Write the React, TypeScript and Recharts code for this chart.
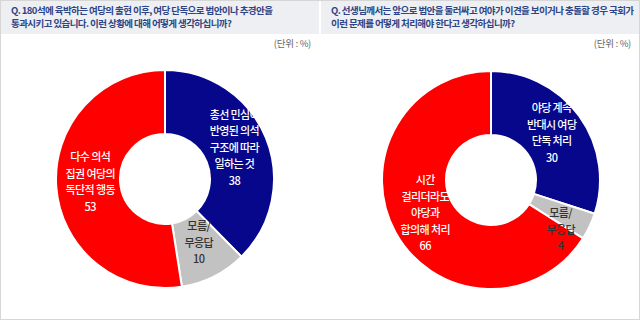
import { PieChart, Pie, Cell } from 'recharts'

const leftQuestion = [
  'Q. 180석에 육박하는 여당의 출현 이후, 여당 단독으로 법안이나 추경안을',
  '통과시키고 있습니다. 이런 상황에 대해 어떻게 생각하십니까?',
]
const leftLabels = [
  ['총선 민심이', '반영된 의석', '구조에 따라', '일하는 것'],
  ['모름/', '무응답'],
  ['다수 의석', '집권 여당의', '독단적 행동'],
]
const leftValues = [38, 10, 53]

const rightQuestion = [
  'Q. 선생님께서는 앞으로 법안을 둘러싸고 여야가 이견을 보이거나 충돌할 경우 국회가',
  '이런 문제를 어떻게 처리해야 한다고 생각하십니까?',
]
const rightLabels = [
  ['야당 계속', '반대시 여당', '단독 처리'],
  ['모름/', '무응답'],
  ['시간', '걸리더라도', '야당과', '합의해 처리'],
]
const rightValues = [30, 4, 66]

const unitLabel = '(단위 : %)'

const COLORS = ['#07078b', '#c2c2c2', '#fe0000']
const TEXT_COLORS = ['#ffffff', '#333333', '#ffffff']
const RADIAN = Math.PI / 180
const FONT = '"Noto Sans CJK KR", "Noto Sans", sans-serif'

function makeLabel(lines: string[][], values: number[]) {
  return (props: any) => {
    const { cx, cy, midAngle, innerRadius, outerRadius, index, percent } = props
    const small = percent < 0.06
    const r = (innerRadius + outerRadius) / 2 - (small ? 0 : 2)
    const x = cx + r * Math.cos(-midAngle * RADIAN)
    // thin slices get their text pushed down a little, like the original
    const y = cy + r * Math.sin(-midAngle * RADIAN) + (small ? 16 : -4)
    const all = [...lines[index], String(values[index])]
    const lh = 16.5
    const y0 = y - ((all.length - 1) * lh) / 2
    return (
      <text
        x={x}
        y={y0}
        fill={TEXT_COLORS[index]}
        textAnchor="middle"
        fontSize={11}
        fontWeight={500}
        letterSpacing={-0.6}
        fontFamily={FONT}
      >
        {all.map((t, i) => (
          <tspan key={i} x={x} y={y0 + i * lh} dominantBaseline="central">
            {t}
          </tspan>
        ))}
      </text>
    )
  }
}

function Panel({ question, labels, values, cx, cy }: { question: string[]; labels: string[][]; values: number[]; cx: number; cy: number }) {
  const data = values.map((v, i) => ({ name: labels[i].join(' '), value: v }))
  return (
    <div style={{ width: 318, height: 318, position: 'relative', background: '#fff' }}>
      <div
        style={{
          background: '#eeeff2',
          height: 33,
          boxSizing: 'border-box',
          padding: '3px 0 0 10px',
          color: '#2d4486',
          fontSize: 9.5,
          lineHeight: '13px',
          letterSpacing: -0.58,
          fontWeight: 600,
          whiteSpace: 'nowrap',
        }}
      >
        {question.map((q, i) => (
          <div key={i}>{q}</div>
        ))}
      </div>
      <div
        style={{
          position: 'absolute',
          right: 8,
          top: 35,
          fontSize: 9.5,
          color: '#666',
          letterSpacing: -0.3,
        }}
      >
        {unitLabel}
      </div>
      <div style={{ position: 'absolute', left: 0, top: 33 }}>
        <PieChart width={318} height={285}>
          <Pie
            data={data}
            dataKey="value"
            cx={cx}
            cy={cy}
            innerRadius={45}
            outerRadius={109}
            startAngle={90}
            endAngle={-270}
            stroke="#ffffff"
            strokeWidth={2}
            label={makeLabel(labels, values)}
            labelLine={false}
            isAnimationActive={false}
          >
            {data.map((d, i) => (
              <Cell key={d.name} fill={COLORS[i]} />
            ))}
          </Pie>
        </PieChart>
      </div>
    </div>
  )
}

export default function App() {
  return (
    <div
      style={{
        width: 638,
        height: 318,
        border: '1px solid #d6d6d6',
        display: 'flex',
        gap: 2,
        fontFamily: FONT,
        overflow: 'hidden',
      }}
    >
      <style>{'body{margin:0}'}</style>
      <Panel question={leftQuestion} labels={leftLabels} values={leftValues} cx={159} cy={140} />
      <Panel question={rightQuestion} labels={rightLabels} values={rightValues} cx={165} cy={141} />
    </div>
  )
}
